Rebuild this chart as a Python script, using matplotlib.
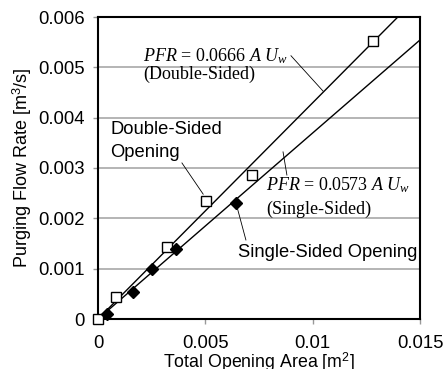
import matplotlib as mpl
import matplotlib.pyplot as plt
import numpy as np

mpl.rcParams['font.family'] = ['Liberation Sans', 'DejaVu Sans']
mpl.rcParams['mathtext.fontset'] = 'custom'
mpl.rcParams['mathtext.rm'] = 'Liberation Serif'
mpl.rcParams['mathtext.it'] = 'Liberation Serif:italic'

# measured data
double_area = [0.0, 0.00082, 0.00321, 0.00502, 0.00716, 0.0128]
double_pfr = [0.0, 0.00044, 0.00144, 0.00234, 0.00286, 0.00553]
single_area = [0.00042, 0.00165, 0.00253, 0.00362, 0.00644]
single_pfr = [0.0001, 0.00054, 0.00099, 0.0014, 0.00231]

# fitted lines PFR = c * A * Uw
coef_double = 0.0666
coef_single = 0.0573
uw = 6.45

x_ticks = [0, 0.005, 0.01, 0.015]
x_ticklabels = ["0", "0.005", "0.01", "0.015"]
y_ticks = [0, 0.001, 0.002, 0.003, 0.004, 0.005, 0.006]
y_ticklabels = ["0", "0.001", "0.002", "0.003", "0.004", "0.005", "0.006"]

fig = plt.figure(figsize=(4.46, 3.69), dpi=100)
ax = fig.add_axes([98/446, 50/369, 322/446, 302/369])

# fit lines
xl = np.array([0, 0.015])
ax.plot(xl, coef_double * uw * xl, color="black", lw=1.0, zorder=3)
ax.plot(xl, coef_single * uw * xl, color="black", lw=1.0, zorder=3)

# markers
ax.plot(double_area, double_pfr, linestyle="none", marker="s", ms=7.5,
        mfc="white", mec="black", mew=1.0, zorder=4, clip_on=False)
ax.plot(single_area, single_pfr, linestyle="none", marker="D", ms=6,
        mfc="black", mec="black", zorder=5, clip_on=False)

# axes settings
ax.set_xlim(0, 0.015)
ax.set_ylim(0, 0.006)
ax.set_xticks(x_ticks)
ax.set_xticklabels(x_ticklabels, fontsize=13.3)
ax.set_yticks(y_ticks)
ax.set_yticklabels(y_ticklabels, fontsize=13.3)
ax.tick_params(axis="both", direction="out", length=3.5, width=1, color="#999999")
ax.tick_params(axis="x", pad=8)
ax.tick_params(axis="y", pad=6)
ax.grid(axis="y", color="#a8a8a8", linewidth=1.2)
ax.set_axisbelow(True)
for s in ax.spines.values():
    s.set_linewidth(1.5)
    s.set_color("black")

ax.set_xlabel("Total Opening Area [m$^{\\mathregular{2}}$]", fontsize=12.8, labelpad=-1)
ax.set_ylabel("Purging Flow Rate [m$^{\\mathregular{3}}$/s]", fontsize=13, labelpad=3)

# annotations
serif = ['Liberation Serif', 'DejaVu Serif']
ax.text(0.0021, 0.00523, r"$PFR$ = 0.0666 $A\ U_w$", fontsize=13, family=serif, va="center")
ax.text(0.0021, 0.00487, "(Double-Sided)", fontsize=13, family=serif, va="center")
ax.plot([0.00899, 0.01048], [0.00523, 0.00453], color="black", lw=0.6)

ax.text(0.00783, 0.00266, r"$PFR$ = 0.0573 $A\ U_w$", fontsize=13, family=serif, va="center")
ax.text(0.00783, 0.00217, "(Single-Sided)", fontsize=13, family=serif, va="center")
ax.plot([0.00862, 0.0088], [0.00332, 0.00286], color="black", lw=0.6)

ax.text(0.00056, 0.00353, "Double-Sided\nOpening", fontsize=13.2, va="center", linespacing=1.45)
ax.plot([0.00391, 0.0049], [0.0031, 0.00248], color="black", lw=0.6)

ax.text(0.00652, 0.00133, "Single-Sided Opening", fontsize=13.2, va="center")
ax.plot([0.00689, 0.00643], [0.00157, 0.0023], color="black", lw=0.6)

fig.savefig("out.png", dpi=100)
